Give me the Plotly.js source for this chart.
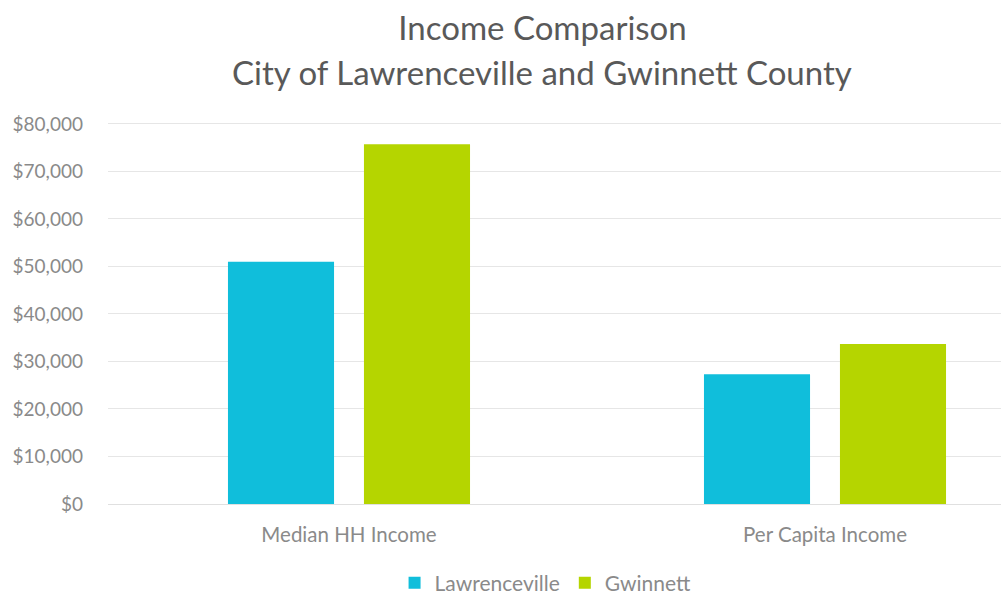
<!DOCTYPE html>
<html>
<head>
<meta charset="utf-8">
<script src="https://cdn.plot.ly/plotly-3.0.1.min.js"></script>
<style>html,body{margin:0;padding:0;background:#fff;}#chart{width:1001px;height:596px;}</style>
</head>
<body>
<div id="chart"></div>
<script>
const categories = ["Median HH Income", "Per Capita Income"];
const lawrenceville = [51000, 27300];
const gwinnett = [75700, 33700];
const yTicks = [0, 10000, 20000, 30000, 40000, 50000, 60000, 70000, 80000];
const yTickLabels = ["$0", "$10,000", "$20,000", "$30,000", "$40,000", "$50,000", "$60,000", "$70,000", "$80,000"];

const fontFam = "Lato, 'Open Sans', sans-serif";
const traces = [
  {type: "bar", name: "Lawrenceville", x: categories, y: lawrenceville, marker: {color: "#10BEDB"}},
  {type: "bar", name: "Gwinnett", x: categories, y: gwinnett, marker: {color: "#B5D500"}}
];
const layout = {
  width: 1001, height: 596,
  margin: {l: 108, r: 0, t: 122, b: 92, autoexpand: false},
  paper_bgcolor: "#ffffff", plot_bgcolor: "#ffffff",
  barmode: "group", bargap: 0.4286, bargroupgap: 0.22,
  font: {family: fontFam, color: "#8a8a8a"},
  title: {text: "Income Comparison", x: 0.542, xref: "container", xanchor: "center", y: 1 - 28 / 596, yref: "container", yanchor: "middle",
          font: {family: fontFam, size: 33, color: "#595959"}},
  annotations: [{text: "City of Lawrenceville and Gwinnett County", xref: "paper", yref: "paper", showarrow: false,
                 x: (542 - 108) / 893, xanchor: "center", y: (504 - 74) / 380, yanchor: "middle",
                 font: {family: fontFam, size: 33, color: "#595959"}}],
  xaxis: {range: [(108 - 349) / 476, (1001 - 349) / 476], showgrid: false, zeroline: false, showline: false,
          ticks: "", ticklabelstandoff: 16, tickfont: {size: 20.5, color: "#8a8a8a", family: fontFam}, fixedrange: true},
  yaxis: {range: [0, 80400], tickvals: yTicks, ticktext: yTickLabels, showgrid: true, gridcolor: "#e6e6e6", gridwidth: 1,
          zeroline: true, zerolinecolor: "#e0e0e0", zerolinewidth: 1, showline: false, ticks: "",
          ticklabelstandoff: 24, tickfont: {size: 19, color: "#8a8a8a", family: fontFam}},
  showlegend: true,
  legend: {orientation: "h", x: 0.49, xanchor: "center", y: 1 - 583 / 596, yref: "container", yanchor: "middle",
           font: {size: 21, color: "#8a8a8a", family: fontFam}, itemwidth: 30, traceorder: "normal"}
};
Plotly.newPlot("chart", traces, layout, {displayModeBar: false, staticPlot: true});
</script>
</body>
</html>
